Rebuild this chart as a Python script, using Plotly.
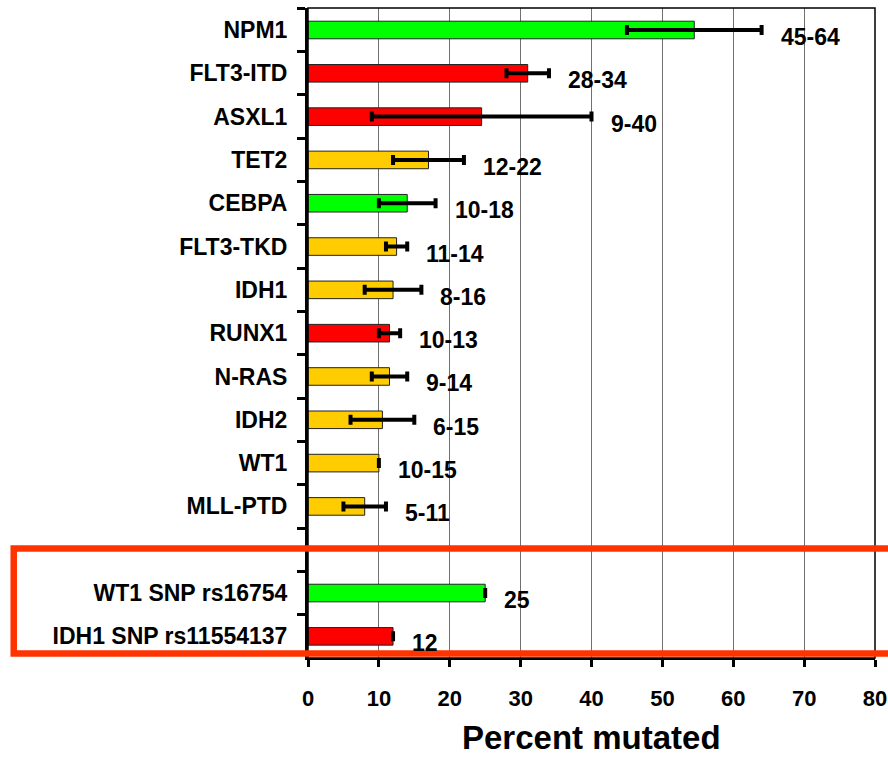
import plotly.graph_objects as go

# ---------------- data ----------------
genes = ["NPM1", "FLT3-ITD", "ASXL1", "TET2", "CEBPA", "FLT3-TKD", "IDH1",
         "RUNX1", "N-RAS", "IDH2", "WT1", "MLL-PTD", " ",
         "WT1 SNP rs16754", "IDH1 SNP rs11554137"]
percent = [54.5, 31, 24.5, 17, 14, 12.5, 12, 11.5, 11.5, 10.5, 10, 8, None, 25, 12]
range_low = [45, 28, 9, 12, 10, 11, 8, 10, 9, 6, 10, 5, None, 25, 12]
range_high = [64, 34, 40, 22, 18, 14, 16, 13, 14, 15, 10, 11, None, 25, 12]
range_text = ["45-64", "28-34", "9-40", "12-22", "10-18", "11-14", "8-16",
              "10-13", "9-14", "6-15", "10-15", "5-11", "", "25", "12"]
prognosis = ["favorable", "adverse", "adverse", "neutral", "favorable", "neutral",
             "neutral", "adverse", "neutral", "neutral", "neutral", "neutral", None,
             "favorable", "adverse"]
x_ticks = [0, 10, 20, 30, 40, 50, 60, 70, 80]

# ---------------- style ----------------
color_map = {"favorable": "#00FF00", "adverse": "#FF0000", "neutral": "#FFCC00", None: "white"}
bar_colors = [color_map[p] for p in prognosis]
FONT = "Arial, Liberation Sans, sans-serif"

err_plus = [None if v is None else h - v for v, h in zip(percent, range_high)]
err_minus = [None if v is None else v - l for v, l in zip(percent, range_low)]

fig = go.Figure()
fig.add_trace(go.Bar(
    x=percent, y=genes, orientation="h",
    marker=dict(color=bar_colors, line=dict(color="#222222", width=1)),
    error_x=dict(type="data", symmetric=False, array=err_plus, arrayminus=err_minus,
                 color="black", thickness=4, width=5),
    hoverinfo="x+y",
))

# range labels
for g, v, h, t in zip(genes, percent, range_high, range_text):
    if v is None:
        continue
    fig.add_annotation(x=max(v, h), y=g, text=t, showarrow=False,
                       xanchor="left", yanchor="middle", xshift=17, yshift=-7,
                       font=dict(family=FONT, size=23, color="black", weight="bold"))

# x-axis title as annotation
fig.add_annotation(x=0.5, y=-0.122, xref="paper", yref="paper", text="Percent mutated",
                   showarrow=False, xanchor="center", yanchor="middle",
                   font=dict(family=FONT, size=33, color="black", weight="bold"))

# plot frame (top/right)
fig.add_shape(type="rect", xref="paper", yref="paper", x0=0, x1=1, y0=0, y1=1,
              line=dict(color="black", width=1.5), layer="above")

# highlight box around SNP rows
fig.add_shape(type="rect", xref="paper", yref="paper",
              x0=-0.519, x1=1.04, y0=0.0069, y1=0.1685,
              line=dict(color="#FF3300", width=6.5), layer="above")

fig.update_layout(
    width=888, height=759,
    margin=dict(l=308, r=13, t=8, b=101),
    paper_bgcolor="white", plot_bgcolor="white",
    bargap=0.594, showlegend=False,
    font=dict(family=FONT, color="black"),
)
fig.update_xaxes(
    range=[0, 80], tickvals=x_ticks, ticktext=[str(t) for t in x_ticks],
    automargin=False,
    showgrid=True, gridcolor="#707070", gridwidth=1.2, zeroline=False,
    showline=True, linecolor="black", linewidth=2,
    ticks="outside", ticklen=7, tickwidth=3, tickcolor="black",
    ticklabelstandoff=13,
    tickfont=dict(family=FONT, size=22, color="black", weight="bold"),
)
fig.update_yaxes(
    type="category", categoryorder="array", categoryarray=genes, autorange="reversed",
    automargin=False,
    showgrid=False, zeroline=False,
    showline=True, linecolor="black", linewidth=3,
    ticks="outside", tickson="boundaries", ticklen=8, tickwidth=3, tickcolor="black",
    ticklabelstandoff=13,
    tickfont=dict(family=FONT, size=23, color="black", weight="bold"),
)

fig.write_html("out.html")
